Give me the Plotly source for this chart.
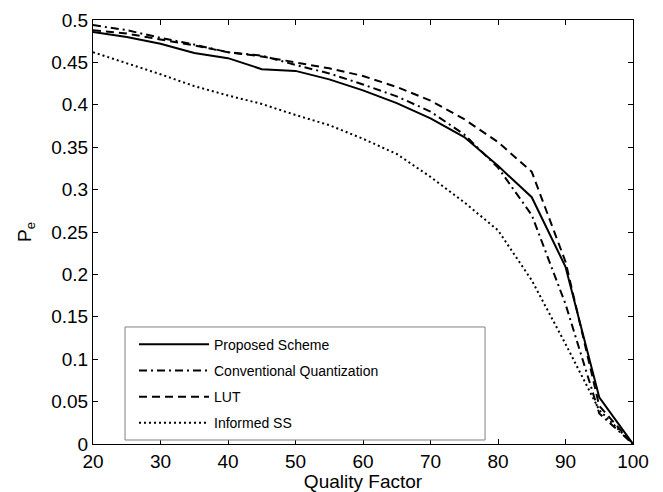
import plotly.graph_objects as go

quality = [20, 25, 30, 35, 40, 45, 50, 55, 60, 65, 70, 75, 80, 85, 90, 95, 100]
proposed = [0.486, 0.480, 0.472, 0.461, 0.455, 0.442, 0.440, 0.430, 0.417, 0.402, 0.384, 0.362, 0.328, 0.291, 0.209, 0.055, 0.0]
conventional = [0.494, 0.488, 0.479, 0.471, 0.462, 0.458, 0.447, 0.437, 0.424, 0.410, 0.392, 0.365, 0.326, 0.270, 0.165, 0.036, 0.0]
lut = [0.488, 0.484, 0.477, 0.470, 0.462, 0.457, 0.450, 0.443, 0.434, 0.421, 0.405, 0.383, 0.356, 0.321, 0.215, 0.045, 0.0]
informed = [0.462, 0.449, 0.436, 0.422, 0.411, 0.401, 0.388, 0.376, 0.360, 0.342, 0.315, 0.285, 0.252, 0.193, 0.118, 0.040, 0.0]

names = ["Proposed Scheme", "Conventional Quantization", "LUT", "Informed SS"]
series = [proposed, conventional, lut, informed]
dashes = ["solid", "8px,4px,2px,4px", "8px,5px", "2px,3px"]

fig = go.Figure()
for i, (n, s, d) in enumerate(zip(names, series, dashes)):
    fig.add_trace(go.Scatter(
        x=quality, y=s, mode="lines", name=n, legendgroup=f"g{i}",
        line=dict(color="black", width=2, dash=d),
    ))

FONT = "Liberation Sans, Arial, sans-serif"
axis_common = dict(
    showline=True, linecolor="black", linewidth=1, mirror="ticks",
    ticks="inside", ticklen=5, tickcolor="black", showgrid=False, zeroline=False,
    automargin=False,
    tickfont=dict(family=FONT, size=19, color="black"),
)

# legend frame (MATLAB-style wide box)
fig.add_shape(type="rect", xref="paper", yref="paper",
              x0=0.0593, x1=0.726, y0=0.0094, y1=0.276,
              line=dict(color="#808080", width=1), fillcolor="white", layer="above")

fig.update_layout(
    width=655, height=484,
    margin=dict(l=85, r=30, t=12, b=48),
    paper_bgcolor="white", plot_bgcolor="white",
    font=dict(family=FONT, color="black"),
    xaxis=dict(range=[20, 100], tickmode="array", tickvals=list(range(20, 101, 10)),
               title=dict(text="Quality Factor", font=dict(size=19), standoff=0), **axis_common),
    yaxis=dict(range=[0, 0.5], tickmode="array", tickvals=[i * 0.05 for i in range(11)],
               ticktext=["0", "0.05", "0.1", "0.15", "0.2", "0.25", "0.3", "0.35", "0.4", "0.45", "0.5"],
               title=dict(text="P<sub>e</sub>", font=dict(size=19), standoff=14), **axis_common),
    showlegend=True,
    legend=dict(x=0.0759, y=0.272, xanchor="left", yanchor="top",
                borderwidth=0, bgcolor="rgba(0,0,0,0)",
                font=dict(size=14), tracegroupgap=5, itemwidth=70,
                traceorder="grouped"),
)

fig.write_html("out.html")
